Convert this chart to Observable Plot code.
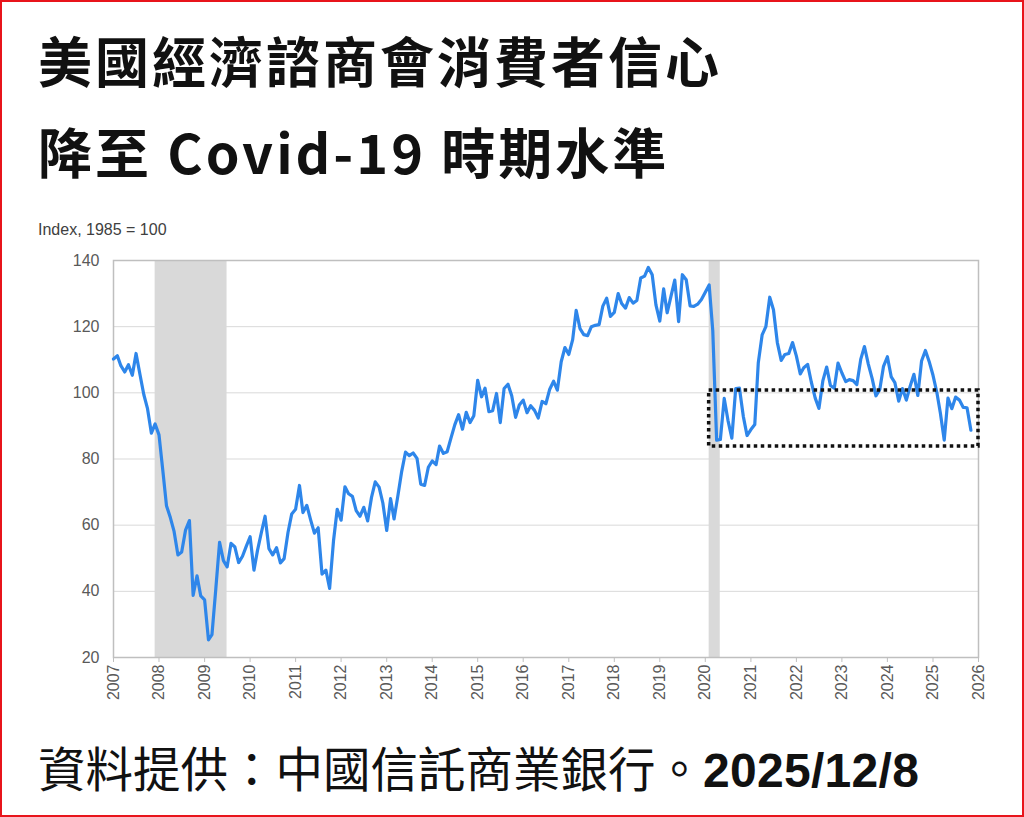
<!DOCTYPE html>
<html>
<head>
<meta charset="utf-8">
<script src="https://cdn.jsdelivr.net/npm/d3@7"></script>
<script src="https://cdn.jsdelivr.net/npm/@observablehq/plot@0.6"></script>
<style>
  html, body { margin: 0; padding: 0; background: #fff; }
  #wrap { position: relative; width: 1024px; height: 817px; overflow: hidden; background: #fff; }
  #border { position: absolute; left: 0; top: 0; width: 1024px; height: 817px; box-sizing: border-box; border: 2px solid #e8141b; pointer-events: none; }
  .t { position: absolute; left: 38px; line-height: 1; color: #111; white-space: nowrap;
       font-family: "Noto Sans CJK TC", "Noto Sans CJK SC", sans-serif; font-weight: 700; font-size: 54px; letter-spacing: 3px; }
  #t1 { top: 33px; }
  #t2 { top: 124px; }
  #ylab { position: absolute; left: 38px; top: 221px; font-family: "Liberation Sans", Arial, sans-serif; font-size: 16px; color: #404040; white-space: nowrap; }
  #chart { position: absolute; left: 0; top: 200px; }
  #foot { position: absolute; left: 38px; top: 743px; line-height: 1; white-space: nowrap; color: #111;
          font-family: "Noto Sans CJK TC", "Noto Sans CJK SC", sans-serif; font-weight: 400; font-size: 47.5px; }
  #foot .d { font-family: "Liberation Sans", Arial, sans-serif; font-weight: 700; font-size: 48px; letter-spacing: 0.3px; }
</style>
</head>
<body>
<div id="wrap">
  <div id="t1" class="t">美國經濟諮商會消費者信心</div>
  <div id="t2" class="t">降至 Covid-19 時期水準</div>
  <div id="ylab">Index, 1985 = 100</div>
  <div id="chart"></div>
  <div id="foot">資料提供：中國信託商業銀行。<span class="d">2025/12/8</span></div>
  <div id="border"></div>
</div>
<script>
// Conference Board Consumer Confidence Index (1985 = 100), monthly, Jan..Dec
const v2007 = [110.2, 111.2, 108.2, 106.3, 108.5, 105.3, 111.9, 105.6, 99.5, 95.2, 87.8, 90.6];
const v2008 = [87.3, 76.4, 65.9, 62.3, 58.1, 51.0, 51.9, 58.5, 61.4, 38.8, 44.7, 38.6];
const v2009 = [37.4, 25.3, 26.9, 40.8, 54.8, 49.3, 47.4, 54.5, 53.4, 48.7, 50.6, 53.6];
const v2010 = [56.5, 46.4, 52.3, 57.7, 62.7, 52.9, 51.0, 53.2, 48.6, 49.9, 57.8, 63.4];
const v2011 = [64.8, 72.0, 63.8, 66.0, 61.7, 57.6, 59.2, 45.2, 46.4, 40.9, 55.2, 64.8];
const v2012 = [61.5, 71.6, 69.5, 68.7, 64.4, 62.7, 65.4, 61.3, 68.4, 73.1, 71.5, 66.7];
const v2013 = [58.4, 68.0, 61.9, 69.0, 76.2, 82.1, 81.0, 81.8, 80.2, 72.4, 72.0, 77.5];
const v2014 = [79.4, 78.3, 83.9, 81.7, 82.2, 86.4, 90.3, 93.4, 89.0, 94.1, 91.0, 93.1];
const v2015 = [103.8, 98.8, 101.4, 94.3, 94.6, 99.8, 91.0, 101.3, 102.6, 99.1, 92.6, 96.3];
const v2016 = [97.8, 94.0, 96.1, 94.7, 92.4, 97.4, 96.7, 101.1, 103.5, 100.8, 109.4, 113.7];
const v2017 = [111.6, 116.1, 124.9, 119.4, 117.6, 117.3, 120.0, 120.4, 120.6, 126.2, 128.6, 123.1];
const v2018 = [124.3, 130.0, 127.0, 125.6, 128.8, 127.1, 127.9, 134.7, 135.3, 137.9, 135.7, 126.6];
const v2019 = [121.7, 131.4, 124.2, 129.2, 134.1, 121.5, 135.7, 134.2, 126.3, 126.1, 126.8, 128.2];
const v2020 = [130.4, 132.6, 118.8, 85.7, 85.9, 98.3, 91.7, 86.3, 101.3, 101.4, 92.9, 87.1];
const v2021 = [88.9, 90.4, 109.0, 117.5, 120.0, 128.9, 125.1, 115.2, 109.8, 111.6, 111.9, 115.2];
const v2022 = [111.1, 105.7, 107.6, 108.6, 103.2, 98.4, 95.3, 103.6, 107.8, 102.2, 101.4, 109.0];
const v2023 = [106.0, 103.4, 104.0, 103.7, 102.5, 110.1, 114.0, 108.7, 104.3, 99.1, 101.0, 108.0];
const v2024 = [110.9, 104.8, 103.1, 97.5, 101.3, 97.8, 101.9, 105.6, 99.2, 109.6, 112.8, 109.5];
const v2025 = [105.3, 100.1, 93.9, 85.7, 98.4, 95.2, 98.7, 97.8, 95.6, 95.5, 88.7];

const years = [2007, 2008, 2009, 2010, 2011, 2012, 2013, 2014, 2015, 2016, 2017, 2018, 2019, 2020, 2021, 2022, 2023, 2024, 2025];
const yearValues = [v2007, v2008, v2009, v2010, v2011, v2012, v2013, v2014, v2015, v2016, v2017, v2018, v2019, v2020, v2021, v2022, v2023, v2024, v2025];

// Recession periods (shaded)
const recessionStart = ["2007-12-01", "2020-02-01"];
const recessionEnd = ["2009-06-30", "2020-04-30"];

// Highlight box (Covid-era range)
const boxStart = "2020-02-01";
const boxEnd = "2026-01-01";
const boxLow = 83.8;
const boxHigh = 100.7;

const yTicks = [20, 40, 60, 80, 100, 120, 140];
const xTickYears = [2007, 2008, 2009, 2010, 2011, 2012, 2013, 2014, 2015, 2016, 2017, 2018, 2019, 2020, 2021, 2022, 2023, 2024, 2025, 2026];

const data = [];
years.forEach((yr, i) => {
  yearValues[i].forEach((v, m) => data.push({date: new Date(Date.UTC(yr, m, 1)), value: v}));
});
const recessions = recessionStart.map((s, i) => ({start: new Date(s), end: new Date(recessionEnd[i])}));
const box = [{start: new Date(boxStart), end: new Date(boxEnd), low: boxLow, high: boxHigh}];
const xTicks = xTickYears.map(y => new Date(Date.UTC(y, 0, 1)));

const chart = Plot.plot({
  width: 1024,
  height: 510,
  marginLeft: 113,
  marginRight: 46,
  marginTop: 60,
  marginBottom: 53,
  style: {fontFamily: "'Liberation Sans', Arial, sans-serif", fontSize: "15px", color: "#595959", background: "transparent"},
  x: {type: "utc", domain: [xTicks[0], xTicks[xTicks.length - 1]]},
  y: {domain: [20, 140]},
  marks: [
    Plot.rect(recessions, {x1: "start", x2: "end", fill: "#d9d9d9"}),
    Plot.gridY(yTicks, {stroke: "#d9d9d9", strokeOpacity: 1}),
    Plot.frame({stroke: "#bfbfbf", strokeWidth: 1.5}),
    Plot.axisY({ticks: yTicks, tickSize: 0, tickPadding: 14, label: null, fontSize: 16}),
    Plot.axisX({ticks: xTicks, tickFormat: d3.utcFormat("%Y"), tickRotate: -90, tickSize: 5, tickPadding: 2, label: null, stroke: "#bfbfbf", fontSize: 16}),
    Plot.lineY(data, {x: "date", y: "value", stroke: "#2e86ea", strokeWidth: 3.2, strokeLinejoin: "round"}),
    Plot.rect(box, {x1: "start", x2: "end", y1: "low", y2: "high", fill: "none", stroke: "#111", strokeWidth: 3.5, strokeDasharray: "3.5,3.5"})
  ]
});
document.getElementById("chart").appendChild(chart);
</script>
</body>
</html>
